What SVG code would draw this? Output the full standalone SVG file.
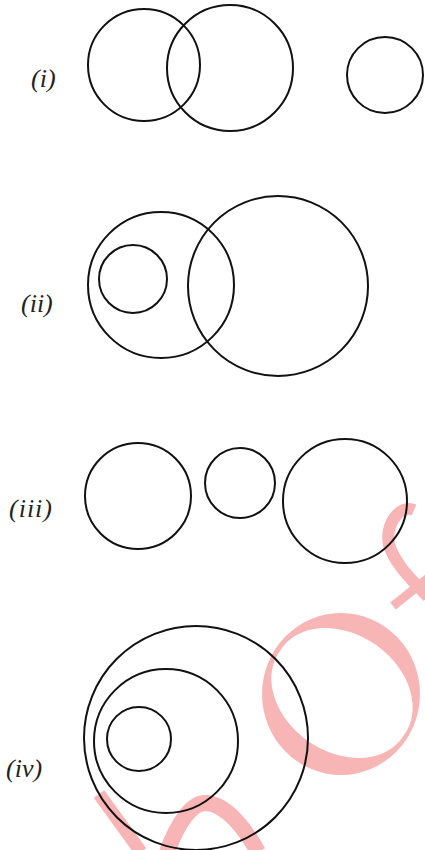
<svg xmlns="http://www.w3.org/2000/svg" width="425" height="850" viewBox="0 0 425 850">
<style>
.c{fill:none;stroke:#111;stroke-width:2}
.lbl{font-family:"Liberation Serif",serif;font-style:italic;font-size:26px;fill:#222}
.wm{fill:none;stroke:#f7b5b5;stroke-linecap:butt}
</style>
<rect width="425" height="850" fill="#fff"/>
<g id="watermark">
<path fill="#f7b5b5" fill-rule="evenodd" d="M262,694 A79,81 0 1,0 420,694 A79,81 0 1,0 262,694 Z M280.6,650 A75,57 35 1,0 403.4,736 A75,57 35 1,0 280.6,650 Z"/>
<path class="wm" d="M414,510 C400,504 385,524 389,545 C396,566 414,582 428,597" stroke-width="12"/>
<path class="wm" d="M393,606 L428,578" stroke-width="9"/>
<path class="wm" d="M99,794 L141,852" stroke-width="13"/>
<path class="wm" d="M167,852 C178,822 192,803 205,803 C226,803 246,830 258,852" stroke-width="16"/>
</g>
<g id="set-i">
<text class="lbl" x="31" y="87">(i)</text>
<circle class="c" cx="144" cy="65" r="56"/>
<circle class="c" cx="230" cy="68" r="63"/>
<circle class="c" cx="385" cy="75" r="38"/>
</g>
<g id="set-ii">
<text class="lbl" x="21" y="312">(ii)</text>
<circle class="c" cx="161" cy="285" r="73"/>
<circle class="c" cx="133" cy="279" r="34"/>
<circle class="c" cx="278" cy="286" r="90"/>
</g>
<g id="set-iii">
<text class="lbl" x="9" y="517" letter-spacing="1">(iii)</text>
<circle class="c" cx="138" cy="496" r="53"/>
<circle class="c" cx="240" cy="483" r="35"/>
<circle class="c" cx="345" cy="501" r="62"/>
</g>
<g id="set-iv">
<text class="lbl" x="6" y="777">(iv)</text>
<circle class="c" cx="196" cy="738" r="112"/>
<circle class="c" cx="166" cy="741" r="72"/>
<circle class="c" cx="139" cy="739" r="32"/>
</g>
<g id="connectors"/>
</svg>
